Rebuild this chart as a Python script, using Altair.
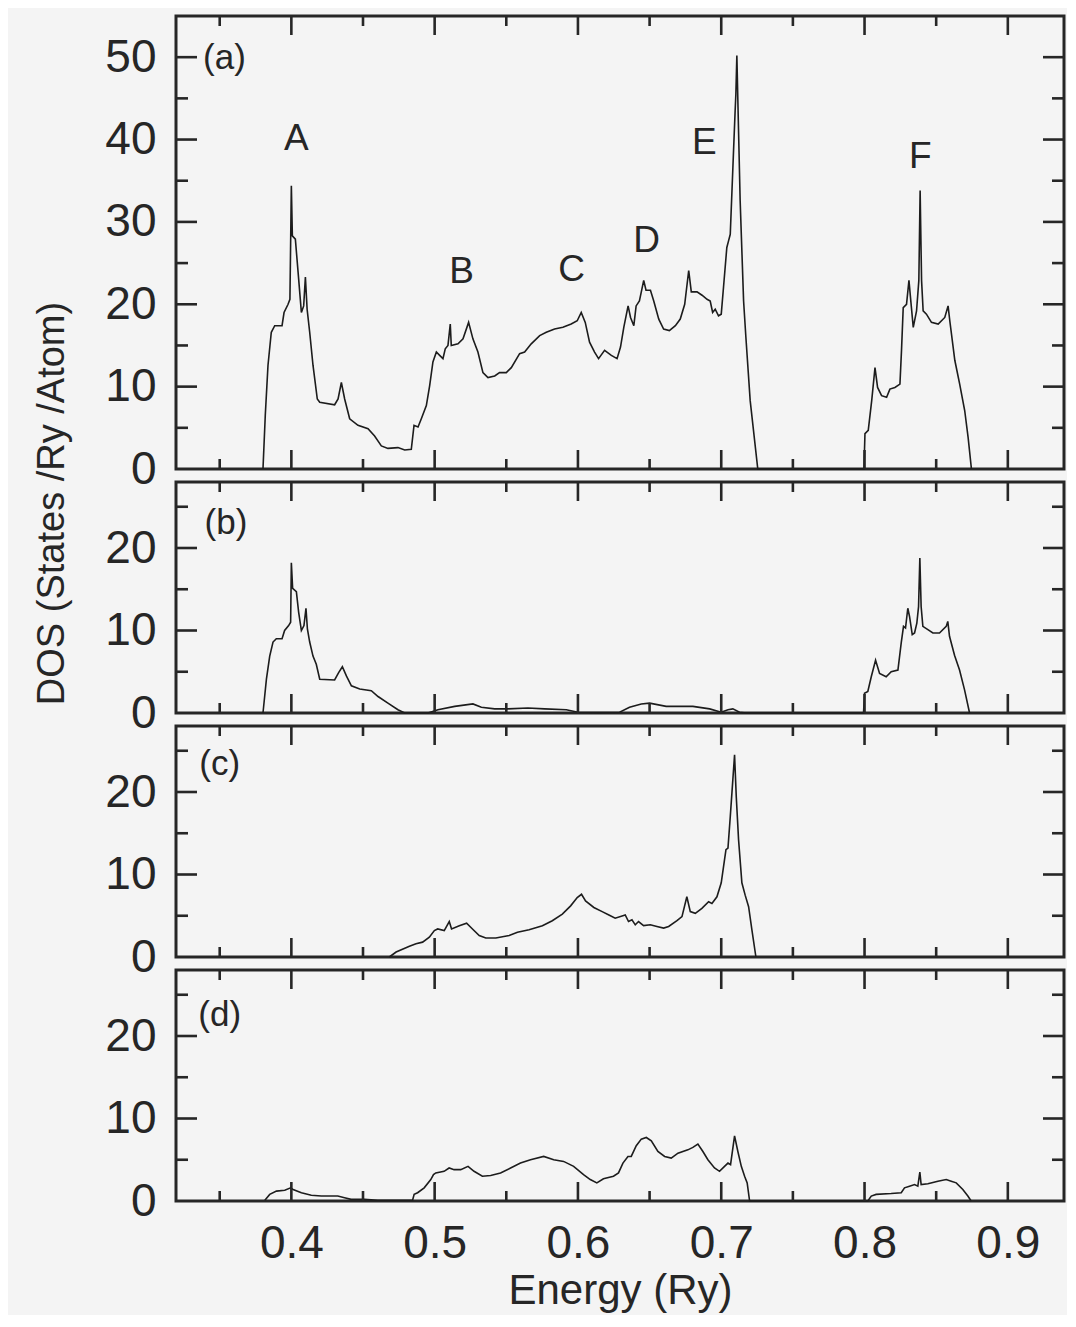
import altair as alt
import pandas as pd

FONT = "Liberation Sans"
INK = "#262626"
LINE = "#1c1c1c"
BG = "#f4f4f4"

X_DOMAIN = [0.3195, 0.9392]
W = 888
H_TOP = 453
H_SUB = 231

# ---------------- data ----------------
# (a) total DOS
a_e = [0.3802, 0.3818, 0.3837, 0.386, 0.3884, 0.3935, 0.3949, 0.3977, 0.399, 0.400,
       0.4007, 0.4028, 0.4047, 0.407, 0.4086, 0.4098, 0.411, 0.4128, 0.4151, 0.4181,
       0.4198, 0.4302, 0.4326, 0.4349, 0.4372, 0.4407, 0.4465, 0.4535, 0.4581, 0.4628,
       0.4674, 0.4744, 0.4791, 0.4837, 0.4856, 0.4884, 0.4907, 0.4942, 0.4965, 0.4988,
       0.5012, 0.5035, 0.5058, 0.5074, 0.5093, 0.5109, 0.5116, 0.5163, 0.5198, 0.5237,
       0.5267, 0.5302, 0.5337, 0.5372, 0.5419, 0.5453, 0.55, 0.5535, 0.5593, 0.5628,
       0.5674, 0.5733, 0.5779, 0.5837, 0.5895, 0.5953, 0.5995, 0.6023, 0.6051, 0.6081,
       0.6116, 0.6144, 0.6186, 0.6233, 0.6273, 0.6297, 0.632, 0.635, 0.6367, 0.639,
       0.6406, 0.6429, 0.6459, 0.6475, 0.6506, 0.6529, 0.6564, 0.6598, 0.6638, 0.668,
       0.6714, 0.6745, 0.6773, 0.6791, 0.6831, 0.6866, 0.6901, 0.6923, 0.694, 0.6958,
       0.6981, 0.7, 0.7016, 0.7039, 0.7051, 0.7063, 0.7086, 0.7097, 0.7102, 0.7109,
       0.7116, 0.7132, 0.7156, 0.7172, 0.7202, 0.7255, 0.7996, 0.8003, 0.8026, 0.805,
       0.8073, 0.8091, 0.8119, 0.8154, 0.8177, 0.8212, 0.8247, 0.8258, 0.827, 0.8293,
       0.831, 0.8324, 0.834, 0.8363, 0.8379, 0.8388, 0.8398, 0.8409, 0.8432, 0.8467,
       0.8514, 0.856, 0.8583, 0.8595, 0.863, 0.8664, 0.8699, 0.8723, 0.8746]
a_d = [0, 6.5, 12.6, 16.6, 17.4, 17.4, 19.0, 20.0, 20.6, 34.4,
       28.3, 27.9, 23.9, 19.0, 19.8, 23.3, 19.4, 16.6, 12.6, 8.5,
       8.1, 7.8, 8.5, 10.5, 8.5, 6.1, 5.3, 4.9, 4.0, 2.8,
       2.5, 2.6, 2.3, 2.4, 5.3, 5.1, 6.1, 7.7, 10.1, 13.0,
       14.2, 13.8, 13.4, 14.6, 15.0, 17.6, 15.0, 15.2, 15.8, 17.8,
       15.8, 14.2, 11.7, 11.1, 11.3, 11.7, 11.7, 12.3, 14.0, 14.2,
       15.2, 16.2, 16.6, 17.0, 17.2, 17.6, 18.0, 19.0, 17.8, 15.4,
       14.2, 13.4, 14.4, 13.8, 13.4, 14.8, 17.2, 19.8, 18.4, 17.4,
       19.8, 20.4, 22.9, 21.7, 21.7, 20.4, 18.2, 17.0, 16.8, 17.4,
       18.2, 20.0, 24.1, 21.5, 21.5, 21.1, 20.6, 20.4, 19.0, 19.4,
       18.6, 18.8, 22.1, 26.9, 27.7, 28.5, 38.7, 43.5, 45.5, 50.2,
       44.7, 32.6, 20.4, 16.0, 8.3, 0, 0, 4.3, 4.7, 8.3,
       12.3, 9.9, 8.9, 8.7, 9.7, 9.9, 10.3, 14.4, 19.6, 20.0,
       22.9, 20.2, 17.2, 19.2, 22.9, 33.8, 22.9, 19.2, 18.8, 17.8,
       17.6, 18.4, 19.8, 18.0, 13.2, 10.3, 7.1, 3.8, 0]

# (b)
b_e = [0.3802, 0.3826, 0.3849, 0.3872, 0.3895, 0.3935, 0.3953, 0.3981, 0.3995, 0.4,
       0.4009, 0.4035, 0.4051, 0.407, 0.4088, 0.4102, 0.4112, 0.4128, 0.4151, 0.4174,
       0.4198, 0.4302, 0.433, 0.4356, 0.4384, 0.4419, 0.4477, 0.4558, 0.4605, 0.4674,
       0.4744, 0.4791, 0.4953, 0.5023, 0.514, 0.5267, 0.5326, 0.5419, 0.5512, 0.5651,
       0.5767, 0.5919, 0.6, 0.6151, 0.6291, 0.636, 0.6442, 0.65, 0.6616, 0.6802,
       0.6919, 0.7, 0.7047, 0.7081, 0.7128, 0.7174, 0.7993, 0.8, 0.8023, 0.8047,
       0.8077, 0.8105, 0.8151, 0.8186, 0.8233, 0.8256, 0.8272, 0.8286, 0.8302, 0.8314,
       0.8333, 0.8349, 0.8365, 0.8377, 0.8386, 0.8395, 0.8407, 0.8442, 0.8477, 0.8523,
       0.857, 0.8581, 0.8593, 0.8628, 0.8663, 0.8698, 0.8733]
b_d = [0, 4.1, 6.9, 8.6, 9.0, 9.0, 10.0, 10.6, 11.0, 18.2,
       15.1, 14.7, 12.2, 10.0, 10.6, 12.7, 10.2, 8.6, 6.9, 5.9,
       4.1, 4.0, 4.9, 5.6, 4.5, 3.3, 2.9, 2.7, 2.0, 1.2,
       0.4, 0, 0, 0.4, 0.8, 1.1, 0.7, 0.5, 0.5, 0.6,
       0.5, 0.4, 0.1, 0.05, 0.1, 0.7, 1.1, 1.2, 0.8, 0.8,
       0.5, 0.1, 0.4, 0.5, 0.1, 0, 0, 2.4, 2.6, 4.4,
       6.4, 4.8, 4.4, 5.0, 5.2, 8.5, 10.5, 10.3, 12.7, 11.7,
       9.5, 9.7, 10.9, 12.9, 18.8, 12.9, 10.5, 10.1, 9.7, 9.7,
       10.5, 11.1, 9.3, 7.0, 5.2, 2.8, 0]

# (c)
c_e = [0.4684, 0.4731, 0.4824, 0.487, 0.4916, 0.4963, 0.4998, 0.5021, 0.5067, 0.5102,
       0.5118, 0.5172, 0.5223, 0.5264, 0.5311, 0.5357, 0.5427, 0.552, 0.5578, 0.5659,
       0.5752, 0.5821, 0.5891, 0.5949, 0.5995, 0.6025, 0.6053, 0.6111, 0.6169, 0.6216,
       0.626, 0.633, 0.6353, 0.6377, 0.64, 0.6423, 0.6458, 0.6505, 0.6551, 0.6598,
       0.6633, 0.6691, 0.6726, 0.676, 0.6784, 0.6819, 0.6865, 0.6912, 0.6935, 0.697,
       0.7, 0.7023, 0.7033, 0.7047, 0.7063, 0.7081, 0.7093, 0.7105, 0.7121, 0.7144,
       0.7167, 0.7191, 0.7214, 0.7242]
c_d = [0, 0.6, 1.3, 1.6, 1.8, 2.4, 3.2, 3.4, 3.2, 4.3,
       3.4, 3.8, 4.1, 3.4, 2.6, 2.3, 2.3, 2.6, 3.0, 3.3,
       3.8, 4.4, 5.2, 6.2, 7.2, 7.6, 6.8, 6.0, 5.5, 5.1,
       4.7, 5.1, 4.3, 4.5, 3.9, 4.3, 3.8, 3.9, 3.7, 3.5,
       3.7, 4.4, 4.9, 7.3, 5.5, 5.3, 5.9, 6.7, 6.5, 7.3,
       9.0, 11.8, 13.0, 13.2, 17.0, 21.5, 24.5, 19.4, 14.2, 9.0,
       7.5, 6.1, 3.3, 0]

# (d)
d_e = [0.3815, 0.3849, 0.3896, 0.3954, 0.3995, 0.4012, 0.407, 0.4139, 0.4209, 0.4324,
       0.4371, 0.4417, 0.451, 0.4603, 0.4846, 0.4857, 0.4881, 0.4927, 0.4973, 0.4992,
       0.5008, 0.5066, 0.5101, 0.5136, 0.5182, 0.5233, 0.5275, 0.5333, 0.5391, 0.546,
       0.553, 0.5599, 0.5669, 0.5761, 0.5831, 0.59, 0.597, 0.6039, 0.6086, 0.6132,
       0.6178, 0.6248, 0.6283, 0.6314, 0.6349, 0.6372, 0.6407, 0.6442, 0.6477, 0.6512,
       0.6558, 0.6605, 0.6651, 0.6698, 0.6767, 0.6802, 0.6837, 0.6872, 0.6907, 0.6953,
       0.6988, 0.7023, 0.7047, 0.7065, 0.7093, 0.7116, 0.714, 0.7163, 0.7181, 0.7198,
       0.8023, 0.8047, 0.8081, 0.8186, 0.8256, 0.8279, 0.8314, 0.8349, 0.8372, 0.8386,
       0.8395, 0.8442, 0.8512, 0.857, 0.8605, 0.864, 0.8686, 0.8721, 0.8744]
d_d = [0.1, 0.8, 1.2, 1.3, 1.6, 1.4, 1.0, 0.7, 0.6, 0.6,
       0.4, 0.2, 0.2, 0.1, 0.1, 0.8, 1.0, 1.6, 2.6, 3.2,
       3.4, 3.6, 4.0, 3.8, 3.8, 4.2, 3.6, 3.0, 3.1, 3.4,
       4.0, 4.6, 5.0, 5.4, 5.0, 4.8, 4.2, 3.2, 2.6, 2.2,
       2.7, 3.0, 3.4, 4.6, 5.4, 5.4, 6.7, 7.5, 7.7, 7.3,
       6.0, 5.4, 5.2, 5.8, 6.2, 6.5, 6.9, 6.0, 5.0, 4.0,
       3.6, 4.2, 4.6, 4.4, 7.9, 6.0, 4.2, 3.0, 2.2, 0,
       0, 0.6, 0.8, 0.9, 1.0, 1.6, 1.8, 2.0, 1.8, 3.5,
       2.0, 2.1, 2.4, 2.6, 2.4, 2.2, 1.4, 0.6, 0]

# peak letters in panel (a)
peak_text = ["A", "B", "C", "D", "E", "F"]
peak_e = [0.4035, 0.5188, 0.5956, 0.648, 0.6882, 0.839]
peak_y = [40.1, 23.9, 24.2, 27.7, 39.6, 37.9]

# panel tags
tag_text = ["(a)", "(b)", "(c)", "(d)"]
tag_e = [0.3533, 0.3544, 0.3500, 0.3500]
tag_y = [49.9, 23.0, 23.4, 22.6]

# axis tick values
x_major = [0.4, 0.5, 0.6, 0.7, 0.8, 0.9]
x_minor = [0.35, 0.45, 0.55, 0.65, 0.75, 0.85]
y_major_top = [10, 20, 30, 40, 50]
y_minor_top = [5, 15, 25, 35, 45]
y_major_sub = [10, 20]
y_minor_sub = [5, 15, 25]
y_labels_top = [0, 10, 20, 30, 40, 50]
y_labels_sub = [0, 10, 20]

X_MAJ, X_MIN, Y_MAJ, Y_MIN = 19, 10, 21, 12
TICK_W = 2.6


def xscale():
    return alt.Scale(domain=X_DOMAIN, nice=False, zero=False)


def yscale(ymax):
    return alt.Scale(domain=[0, ymax], nice=False, zero=False)


def panel(e, d, ymax, h, ymaj, ymin, ylabel_vals, tag_i, with_peaks=False,
          x_axis=False, y_title=False):
    df = pd.DataFrame({"Energy": e, "DOS": d})

    if x_axis:
        xax = alt.Axis(values=x_major, format=".1f", ticks=False,
                       domain=False, grid=False, labelFontSize=46, labelPadding=20,
                       labelFont=FONT, labelColor=INK, labelFlush=False,
                       title="Energy (Ry)", titleFontSize=42, titleFont=FONT,
                       titleFontWeight="normal", titleColor=INK, titlePadding=4)
    else:
        xax = None

    ykw = dict(values=ylabel_vals, ticks=False, domain=False, grid=False,
               labelFontSize=46, labelPadding=20, labelFont=FONT, labelColor=INK)
    if y_title:
        yax = alt.Axis(title="DOS (States /Ry /Atom)", titleFontSize=38, titleFont=FONT,
                       titleFontWeight="normal", titleColor=INK, titleAngle=270,
                       titleAlign="center", titleBaseline="alphabetic",
                       titleX=-113, titleY=21, **ykw)
    else:
        yax = alt.Axis(title=None, **ykw)

    # every layer carries the same axis definition so the shared axes merge cleanly
    def X(field):
        return alt.X(field, scale=xscale(), axis=xax)

    def Y(field):
        return alt.Y(field, scale=yscale(ymax), axis=yax)

    line = alt.Chart(df).mark_line(color=LINE, strokeWidth=1.6).encode(
        x=X("Energy:Q"), y=Y("DOS:Q"),
    )
    layers = [line]

    # inward ticks on the four sides of the frame
    for vals, length in ((x_major, X_MAJ), (x_minor, X_MIN)):
        base = alt.Chart(pd.DataFrame({"v": vals})).mark_rule(color=INK, strokeWidth=TICK_W)
        layers.append(base.encode(x=X("v:Q"), y=alt.value(h), y2=alt.value(h - length)))
        layers.append(base.encode(x=X("v:Q"), y=alt.value(0), y2=alt.value(length)))
    for vals, length in ((ymaj, Y_MAJ), (ymin, Y_MIN)):
        base = alt.Chart(pd.DataFrame({"v": vals})).mark_rule(color=INK, strokeWidth=TICK_W)
        layers.append(base.encode(y=Y("v:Q"), x=alt.value(0), x2=alt.value(length)))
        layers.append(base.encode(y=Y("v:Q"), x=alt.value(W), x2=alt.value(W - length)))

    tag_df = pd.DataFrame({"Energy": [tag_e[tag_i]], "DOS": [tag_y[tag_i]],
                           "t": [tag_text[tag_i]]})
    layers.append(
        alt.Chart(tag_df).mark_text(font=FONT, fontSize=35, color=INK,
                                    align="center", baseline="middle").encode(
            x=X("Energy:Q"), y=Y("DOS:Q"), text="t:N",
        )
    )
    if with_peaks:
        pk = pd.DataFrame({"Energy": peak_e, "DOS": peak_y, "t": peak_text})
        layers.append(
            alt.Chart(pk).mark_text(font=FONT, fontSize=37, color=INK,
                                    align="center", baseline="middle").encode(
                x=X("Energy:Q"), y=Y("DOS:Q"), text="t:N",
            )
        )
    return alt.layer(*layers).properties(width=W, height=h)


pa = panel(a_e, a_d, 55, H_TOP, y_major_top, y_minor_top, y_labels_top, 0, with_peaks=True)
pb = panel(b_e, b_d, 28, H_SUB, y_major_sub, y_minor_sub, y_labels_sub, 1, y_title=True)
pc = panel(c_e, c_d, 28, H_SUB, y_major_sub, y_minor_sub, y_labels_sub, 2)
pd_ = panel(d_e, d_d, 28, H_SUB, y_major_sub, y_minor_sub, y_labels_sub, 3, x_axis=True)

chart = alt.vconcat(
    pa, pb, pc, pd_,
    spacing=13,
    bounds="flush",
    padding={"left": 23, "top": 5, "right": 0, "bottom": 2},
    background=BG,
).configure_view(stroke=INK, strokeWidth=3)

chart.save("out.html", embed_options={"renderer": "svg", "actions": False})
